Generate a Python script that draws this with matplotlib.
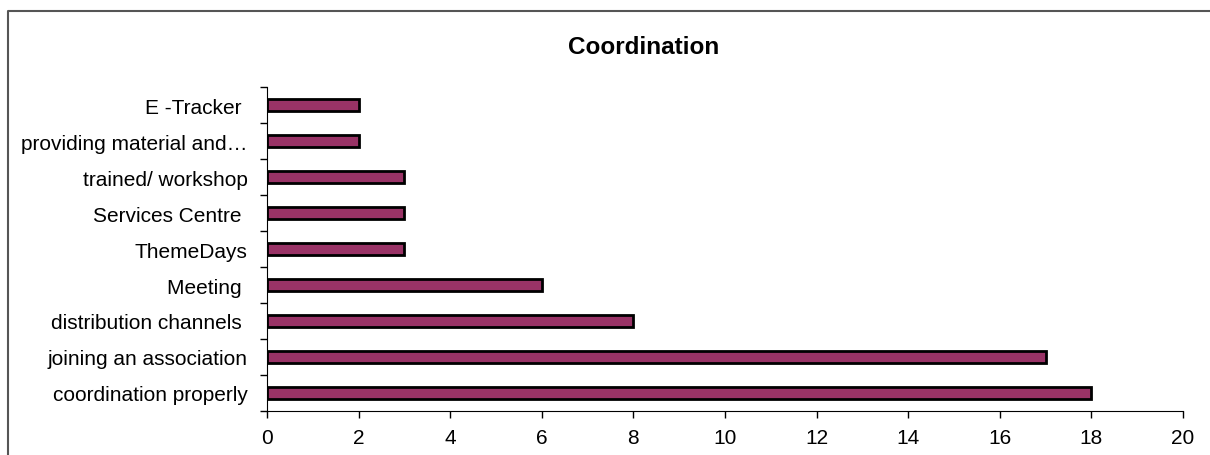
import matplotlib.pyplot as plt
from matplotlib.lines import Line2D
import numpy as np

plt.rcParams['font.family'] = ['Liberation Sans', 'DejaVu Sans']

# data, bottom to top
labels = ['coordination properly', 'joining an association', 'distribution channels ',
          'Meeting ', 'ThemeDays', 'Services Centre ', 'trained/ workshop',
          'providing material and…', 'E -Tracker ']
values = [18, 17, 8, 6, 3, 3, 3, 2, 2]
xticks = [0, 2, 4, 6, 8, 10, 12, 14, 16, 18, 20]

fig = plt.figure(figsize=(12.1, 4.56), dpi=100)
ax = fig.add_axes([0.2207, 0.0965, 0.7570, 0.7105])

y = np.arange(len(labels))
ax.barh(y, values, height=0.36, color='#993366', edgecolor='black', linewidth=2)

ax.set_xlim(0, 20)
ax.set_ylim(-0.5, len(labels) - 0.5)
ax.set_xticks(xticks)
ax.set_yticks(y)
ax.set_yticklabels(labels)
ax.set_yticks(np.arange(len(labels) + 1) - 0.5, minor=True)

ax.tick_params(axis='y', which='major', length=0, pad=14, labelsize=15)
ax.tick_params(axis='y', which='minor', length=5, direction='out', width=1)
ax.tick_params(axis='x', length=5, direction='out', width=1, labelsize=15, pad=7)

for s in ['top', 'right']:
    ax.spines[s].set_visible(False)
ax.spines['left'].set_color('black')
ax.spines['bottom'].set_color('black')

fig.text(0.532, 0.895, 'Coordination', ha='center', va='center',
         fontsize=17.5, fontweight='bold')

# outer chart-area border (left and top only visible)
fig.add_artist(Line2D([8 / 1210, 8 / 1210, 1.0], [0.0, 1 - 12 / 456, 1 - 12 / 456],
                      transform=fig.transFigure, color='#555555', linewidth=1.5))

fig.savefig('out.png', dpi=100)
